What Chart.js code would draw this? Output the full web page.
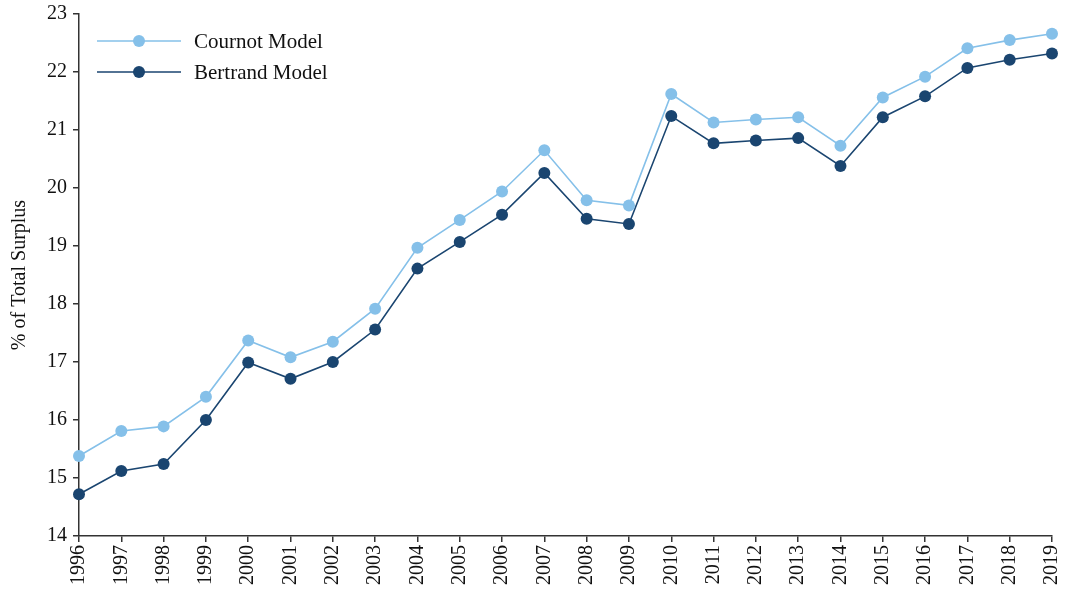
<!DOCTYPE html>
<html>
<head>
<meta charset="utf-8">
<script src="https://cdn.jsdelivr.net/npm/chart.js@4"></script>
<style>
html,body{margin:0;padding:0;background:#fff;}
#wrap{width:1068px;height:597px;}
</style>
</head>
<body>
<div id="wrap"><canvas id="c" width="1068" height="597"></canvas></div>
<script>
const years = [1996,1997,1998,1999,2000,2001,2002,2003,2004,2005,2006,2007,2008,2009,2010,2011,2012,2013,2014,2015,2016,2017,2018,2019];
const cournot = [15.38,15.81,15.89,16.40,17.37,17.08,17.35,17.92,18.97,19.45,19.94,20.65,19.79,19.70,21.62,21.13,21.18,21.22,20.73,21.56,21.92,22.41,22.55,22.66];
const bertrand = [14.72,15.12,15.24,16.00,16.99,16.71,17.00,17.56,18.61,19.07,19.54,20.26,19.47,19.38,21.24,20.77,20.82,20.86,20.38,21.22,21.58,22.07,22.21,22.32];
const seriesNames = ["Cournot Model","Bertrand Model"];
const yTitle = "% of Total Surplus";
const yMin = 14, yMax = 23;

const FONT = "'Liberation Serif', 'Times New Roman', serif";
const C1 = "#85c0e9", C2 = "#1a4570";

const legendPlugin = {
  id: 'customLegend',
  afterDraw(chart) {
    const ctx = chart.ctx;
    ctx.save();
    chart.data.datasets.forEach((ds, i) => {
      const y = 41 + i * 31;
      ctx.strokeStyle = ds.borderColor;
      ctx.lineWidth = 1.6;
      ctx.beginPath(); ctx.moveTo(97, y); ctx.lineTo(181, y); ctx.stroke();
      ctx.fillStyle = ds.borderColor;
      ctx.beginPath(); ctx.arc(139, y, 6, 0, Math.PI * 2); ctx.fill();
      ctx.fillStyle = "#111";
      ctx.font = "21px " + FONT;
      ctx.textBaseline = "middle";
      ctx.textAlign = "left";
      ctx.fillText(ds.label, 194, y + 1);
    });
    ctx.restore();
  }
};

new Chart(document.getElementById('c'), {
  type: 'line',
  data: {
    labels: years.map(String),
    datasets: [
      {label: seriesNames[0], data: cournot, borderColor: C1, backgroundColor: C1, pointBackgroundColor: C1, pointBorderColor: C1, borderWidth: 1.6, pointRadius: 6, pointBorderWidth: 0, tension: 0},
      {label: seriesNames[1], data: bertrand, borderColor: C2, backgroundColor: C2, pointBackgroundColor: C2, pointBorderColor: C2, borderWidth: 1.6, pointRadius: 6, pointBorderWidth: 0, tension: 0}
    ]
  },
  options: {
    responsive: false,
    animation: false,
    layout: {padding: {left: 0, right: 16, top: 14, bottom: 0}},
    plugins: {legend: {display: false}, tooltip: {enabled: false}},
    scales: {
      x: {
        offset: false,
        afterFit(s) { s.height = 61; s.paddingLeft = 0; s.paddingRight = 0; },
        grid: {drawOnChartArea: false, drawTicks: true, tickLength: 6, color: '#333', lineWidth: 1.5},
        border: {display: true, color: '#333', width: 1.5},
        ticks: {minRotation: 90, maxRotation: 90, autoSkip: false, padding: 3, color: '#111', font: {family: FONT, size: 20}}
      },
      y: {
        min: yMin, max: yMax,
        afterFit(s) { s.width = 79; s.paddingTop = 0; s.paddingBottom = 0; },
        grid: {drawOnChartArea: false, drawTicks: true, tickLength: 6, color: '#333', lineWidth: 1.5},
        border: {display: true, color: '#333', width: 1.5},
        ticks: {stepSize: 1, padding: 6, color: '#111', font: {family: FONT, size: 20}},
        title: {display: true, text: yTitle, color: '#111', font: {family: FONT, size: 20}, padding: {top: 8, bottom: 0}}
      }
    }
  },
  plugins: [legendPlugin]
});
</script>
</body>
</html>
